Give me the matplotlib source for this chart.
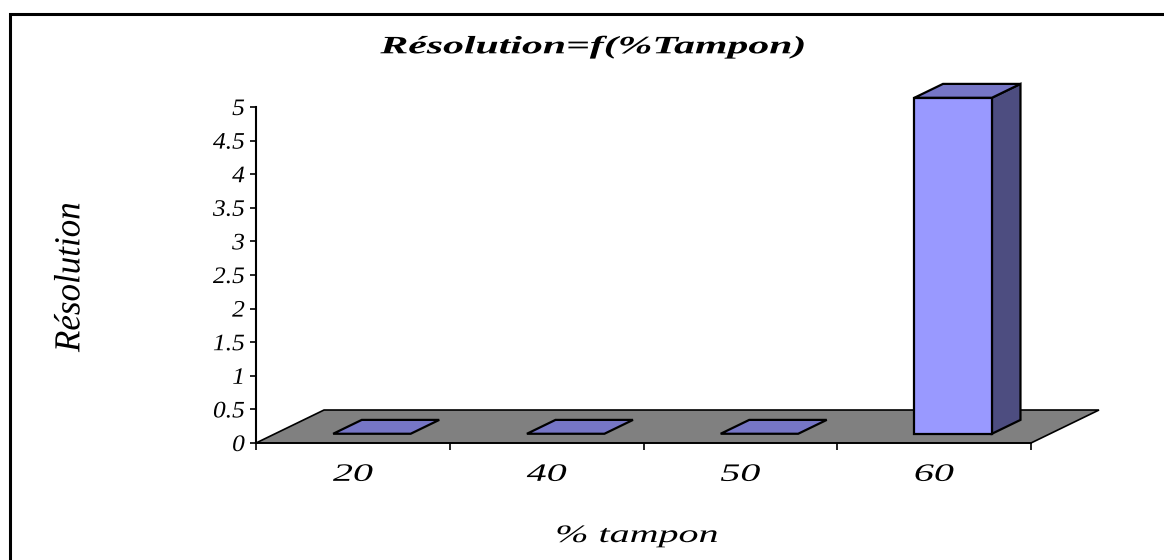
import numpy as np
import matplotlib
matplotlib.use('Agg')
import matplotlib.pyplot as plt
from matplotlib.patches import Polygon, Rectangle
from matplotlib.patheffects import AbstractPathEffect
from matplotlib.transforms import Affine2D

# données
categories = ['20', '40', '50', '60']
resolution = [0, 0, 0, 5]
y_ticks = [0, 0.5, 1, 1.5, 2, 2.5, 3, 3.5, 4, 4.5, 5]

# géométrie pseudo-3D (unités de données)
DEPTH_X = 0.351      # décalage horizontal du fond, en catégories
DEPTH_Y = 0.491      # décalage vertical du fond, en unités de résolution
BAR_FRONT, BAR_BACK = 0.28, 0.70
BAR_WIDTH = 0.4

C_FLOOR = '#808080'
C_FRONT = '#9999FF'
C_TOP = '#7676C6'
C_SIDE = '#4D4D80'


class Stretch(AbstractPathEffect):
    """Étire le texte dans son propre repère (police élargie type Excel)."""

    def __init__(self, sx=1.0, sy=1.0, anchor='center'):
        super().__init__()
        self.sx, self.sy, self.anchor = sx, sy, anchor

    def draw_path(self, renderer, gc, tpath, affine, rgbFace=None):
        ext = tpath.get_extents()
        if self.anchor == 'right':
            cx = ext.x1
        elif self.anchor == 'left':
            cx = ext.x0
        else:
            cx = (ext.x0 + ext.x1) / 2
        cy = (ext.y0 + ext.y1) / 2
        pre = Affine2D().translate(-cx, -cy).scale(self.sx, self.sy).translate(cx, cy)
        renderer.draw_path(gc, tpath, pre + affine, rgbFace)


def depth(points, f):
    return [(x + f * DEPTH_X, y + f * DEPTH_Y) for x, y in points]


fig = plt.figure(figsize=(11.64, 5.6), dpi=100)
fig.patch.set_facecolor('white')

# cadre du graphique
fig.patches.append(Rectangle((10 / 1164, -0.1), 1.2, 546 / 560 + 0.1,
                             transform=fig.transFigure, fill=False,
                             edgecolor='black', linewidth=2.2))

ax = fig.add_axes([256 / 1164, 117 / 560, 775 / 1164, 336 / 560])
ax.set_xlim(0, len(categories))
ax.set_ylim(0, 5)
ax.patch.set_visible(False)

# plancher
floor = [(0, 0), (len(categories), 0)]
floor = floor + depth(floor[::-1], 1.0)
ax.add_patch(Polygon(floor, closed=True, facecolor=C_FLOOR, edgecolor='black',
                     linewidth=1.2, clip_on=False, zorder=1))

# barres
for i, v in enumerate(resolution):
    x0 = i + 0.5 - BAR_WIDTH / 2
    x1 = x0 + BAR_WIDTH
    top = depth([(x0, v), (x1, v)], BAR_FRONT) + depth([(x1, v), (x0, v)], BAR_BACK)
    if v > 0:
        side = depth([(x1, 0), (x1, v)], BAR_FRONT) + depth([(x1, v), (x1, 0)], BAR_BACK)
        front = depth([(x0, 0), (x1, 0), (x1, v), (x0, v)], BAR_FRONT)
        ax.add_patch(Polygon(side, closed=True, facecolor=C_SIDE, edgecolor='black',
                             linewidth=1.6, clip_on=False, zorder=2))
        ax.add_patch(Polygon(front, closed=True, facecolor=C_FRONT, edgecolor='black',
                             linewidth=1.6, clip_on=False, zorder=3))
    ax.add_patch(Polygon(top, closed=True, facecolor=C_TOP, edgecolor='black',
                         linewidth=1.6, clip_on=False, zorder=3))

for s in ('top', 'right'):
    ax.spines[s].set_visible(False)
ax.spines['left'].set_linewidth(1.5)
ax.spines['bottom'].set_linewidth(1.2)

ax.set_yticks(y_ticks)
ax.set_yticklabels([f'{t:g}' for t in y_ticks])
ax.tick_params(axis='y', direction='out', length=4.5, width=1.2, pad=3.5)

ax.set_xticks(range(len(categories) + 1))
ax.set_xticklabels([])
ax.set_xticks([i + 0.5 for i in range(len(categories))], minor=True)
ax.set_xticklabels(categories, minor=True)
ax.tick_params(axis='x', which='major', direction='out', length=5, width=1.2)
ax.tick_params(axis='x', which='minor', length=0, pad=15)

for lab in ax.get_yticklabels():
    lab.set_fontfamily('Liberation Serif')
    lab.set_fontstyle('italic')
    lab.set_fontsize(17)
    lab.set_path_effects([Stretch(1.08, 1.0, 'right')])
for lab in ax.get_xticklabels(minor=True):
    lab.set_fontfamily('Liberation Serif')
    lab.set_fontstyle('italic')
    lab.set_fontsize(18)
    lab.set_path_effects([Stretch(1.6)])

fig.text(593 / 1164, 1 - 47 / 560, 'Résolution=f(%Tampon)', ha='center', va='center',
         family='Liberation Serif', style='italic', weight='bold', fontsize=18,
         path_effects=[Stretch(1.67)])
fig.text(70 / 1164, 1 - 277 / 560, 'Résolution', ha='center', va='center', rotation=90,
         family='Liberation Serif', style='italic', fontsize=24,
         path_effects=[Stretch(1.05, 1.1)])
fig.text(637 / 1164, 1 - 536 / 560, '% tampon', ha='center', va='center',
         family='Liberation Serif', style='italic', fontsize=18,
         path_effects=[Stretch(1.6)])

fig.savefig('out.png', dpi=100)
